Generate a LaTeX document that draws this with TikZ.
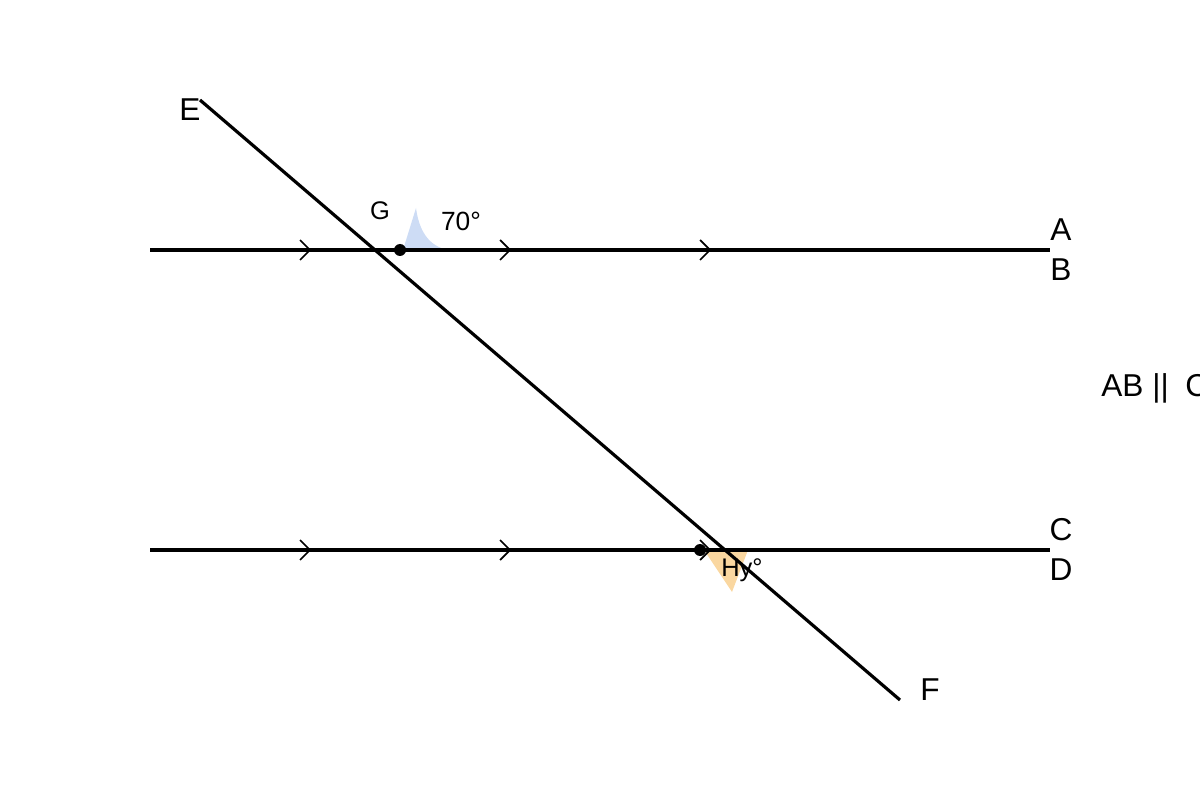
\documentclass[tikz,border=0pt]{standalone}
\usepackage{fontspec}
\setmainfont{Liberation Sans}
\definecolor{angleblue}{RGB}{205,220,245}
\definecolor{angleorange}{RGB}{250,215,160}
\begin{document}
\begin{tikzpicture}[x=0.02cm, y=-0.02cm, line/.style={line width=1.8pt}, chev/.style={line width=1pt},
    dot/.style={circle, fill=black, inner sep=0pt, minimum size=0.24cm},
    big/.style={inner sep=0pt, font=\fontsize{18}{21}\selectfont},
    small/.style={inner sep=0pt, font=\fontsize{14.5}{17}\selectfont}]
      \useasboundingbox (0,0) rectangle (1200,800);
      \coordinate (a) at (150,250);
      \coordinate (b) at (1050,250);
      \coordinate (c) at (150,550);
      \coordinate (d) at (1050,550);
      \coordinate (e) at (200,100);
      \coordinate (f) at (900,700);
      \fill[angleblue] (403,250) -- (416,208) .. controls (419,230) and (428,246) .. (448,250) -- cycle;
      \fill[angleorange] (704,550) -- (748,550) -- (732,592) -- cycle;
      \foreach \source/\dest in {a/b, c/d, e/f}
        \path[line] (\source) edge (\dest);
      \foreach \y in {250,550}
        \foreach \x in {310,510,710}
          \draw[chev] (\x-10,\y-10) -- (\x,\y) -- (\x-10,\y+10);
      \node[dot] (g) at (400,250) {};
      \node[dot] (h) at (700,550) {};
      \node[big] (lE) at (190,110) {E};
      \node[big] (lF) at (930,690) {F};
      \node[big] (lA) at (1061,230) {A};
      \node[big] (lB) at (1061,270) {B};
      \node[big] (lC) at (1061,530) {C};
      \node[big] (lD) at (1061,570) {D};
      \node[big, anchor=west] (par) at (1101,388) {AB ||\hspace{0.25em} CD};
      \node[small] (lG) at (380,211) {G};
      \node[small, font=\fontsize{15}{17}\selectfont] (ang) at (461,221) {70°};
      \node[small] (lH) at (742,570) {Hy°};
\end{tikzpicture}
\end{document}
